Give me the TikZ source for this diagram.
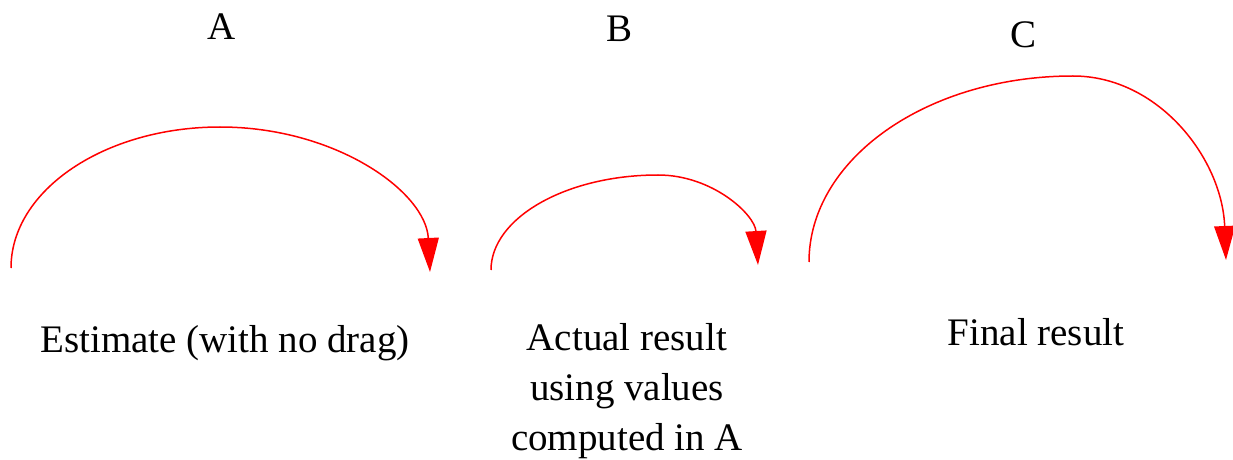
\documentclass[tikz,border=0pt]{standalone}
\usepackage{fontspec}
\setmainfont{Liberation Serif}
\usetikzlibrary{arrows.meta,positioning}

\begin{document}
\begin{tikzpicture}[x=0.5pt,y=-0.5pt,
  arc/.style={red,line width=0.75pt,-{Triangle[width=10.5pt,length=17pt]}},
  lbl/.style={font=\fontsize{19.5}{25}\selectfont,inner sep=0pt,anchor=base,align=center}]
  \useasboundingbox (0,0) rectangle (1233,460);

  %% Panel letters
  \node[lbl] (ltrA) at (222,40) {A};
  \node[lbl] (ltrB) at (620,42) {B};
  \node[lbl] (ltrC) at (1023,48) {C};

  %% Captions
  \node[lbl] (capA) at (225,352) {Estimate (with no drag)};
  \node[lbl] (capB) at (627,450) {Actual result\\using values\\computed in A};
  \node[lbl] (capC) at (1036,345) {Final result};

  %% Arc points
  \coordinate (a0) at (11,268);
  \coordinate (atop) at (220,127);
  \coordinate (a1) at (430,272);
  \coordinate (b0) at (491,270);
  \coordinate (btop) at (658,175);
  \coordinate (b1) at (758,265);
  \coordinate (c0) at (809,262);
  \coordinate (ctop) at (1073,76);
  \coordinate (c1) at (1226,260);

  %% Arcs
  \draw[arc] (a0) .. controls +(0,-78) and +(-115,0) .. (atop)
                  .. controls +(116,0) and +(-4,-80) .. (a1);
  \draw[arc] (b0) .. controls +(0,-52) and +(-92,0) .. (btop)
                  .. controls +(55,0) and +(-3,-50) .. (b1);
  \draw[arc] (c0) .. controls +(0,-103) and +(-146,0) .. (ctop)
                  .. controls +(85,0) and +(-4,-102) .. (c1);
\end{tikzpicture}
\end{document}
